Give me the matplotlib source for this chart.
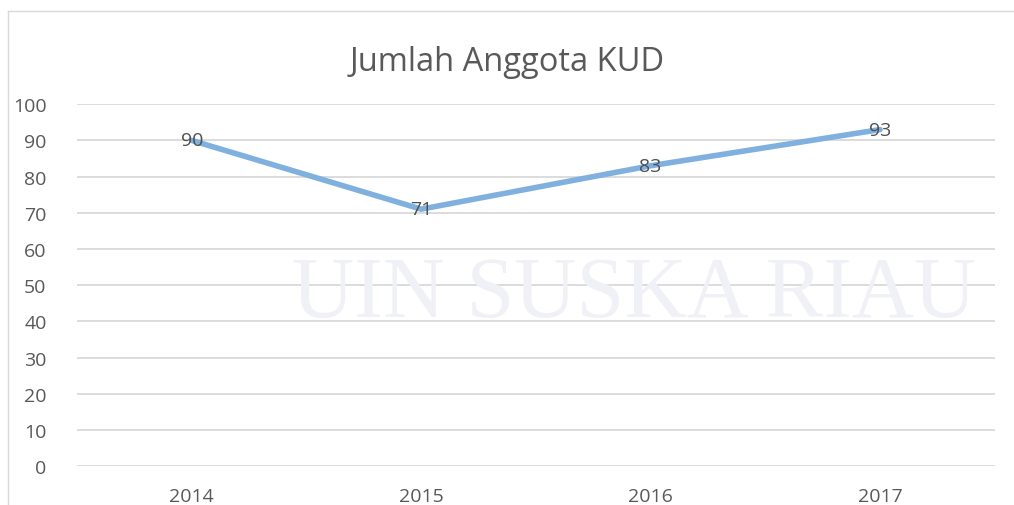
import matplotlib
matplotlib.use("Agg")
from matplotlib import pyplot as plt
from matplotlib.lines import Line2D

years = ["2014", "2015", "2016", "2017"]
anggota = [90, 71, 83, 93]
y_ticks = list(range(0, 101, 10))

plt.rcParams['font.family'] = ['Open Sans', 'DejaVu Sans']

fig = plt.figure(figsize=(10.14, 5.06), dpi=100)
ax = fig.add_axes([0.076, 0.077, 0.905, 0.715])

# faint watermark behind the chart
fig.text(0.625, 0.415, "UIN SUSKA RIAU", family="Liberation Serif", fontsize=62,
         color="#f0f1f6", ha="center", va="center", zorder=0)

# chart border
fig.add_artist(Line2D([0.008, 1.0], [0.976, 0.976], color="#d9d9d9", lw=1))
fig.add_artist(Line2D([0.008, 0.008], [0.0, 0.976], color="#d9d9d9", lw=1))

x = list(range(len(years)))
ax.plot(x, anggota, color="#7fb0de", lw=4.0, solid_capstyle="round", zorder=3)
for xi, v in zip(x, anggota):
    ax.text(xi, v, str(v), ha="center", va="center", fontsize=14, color="#505050", zorder=4)

ax.set_xlim(-0.5, 3.5)
ax.set_ylim(0, 100)
ax.set_yticks(y_ticks)
ax.set_xticks(x)
ax.set_xticklabels(years)
ax.grid(axis="y", color="#d9d9d9", lw=1.3)
ax.set_axisbelow(True)
for s in ax.spines.values():
    s.set_visible(False)
ax.tick_params(length=0, labelsize=14, labelcolor="#595959")
ax.tick_params(axis="y", pad=22)
ax.tick_params(axis="x", pad=15)
ax.patch.set_alpha(0)

fig.suptitle("Jumlah Anggota KUD", y=0.91, fontsize=23.5, color="#595959")

fig.savefig("out.png", dpi=100)
